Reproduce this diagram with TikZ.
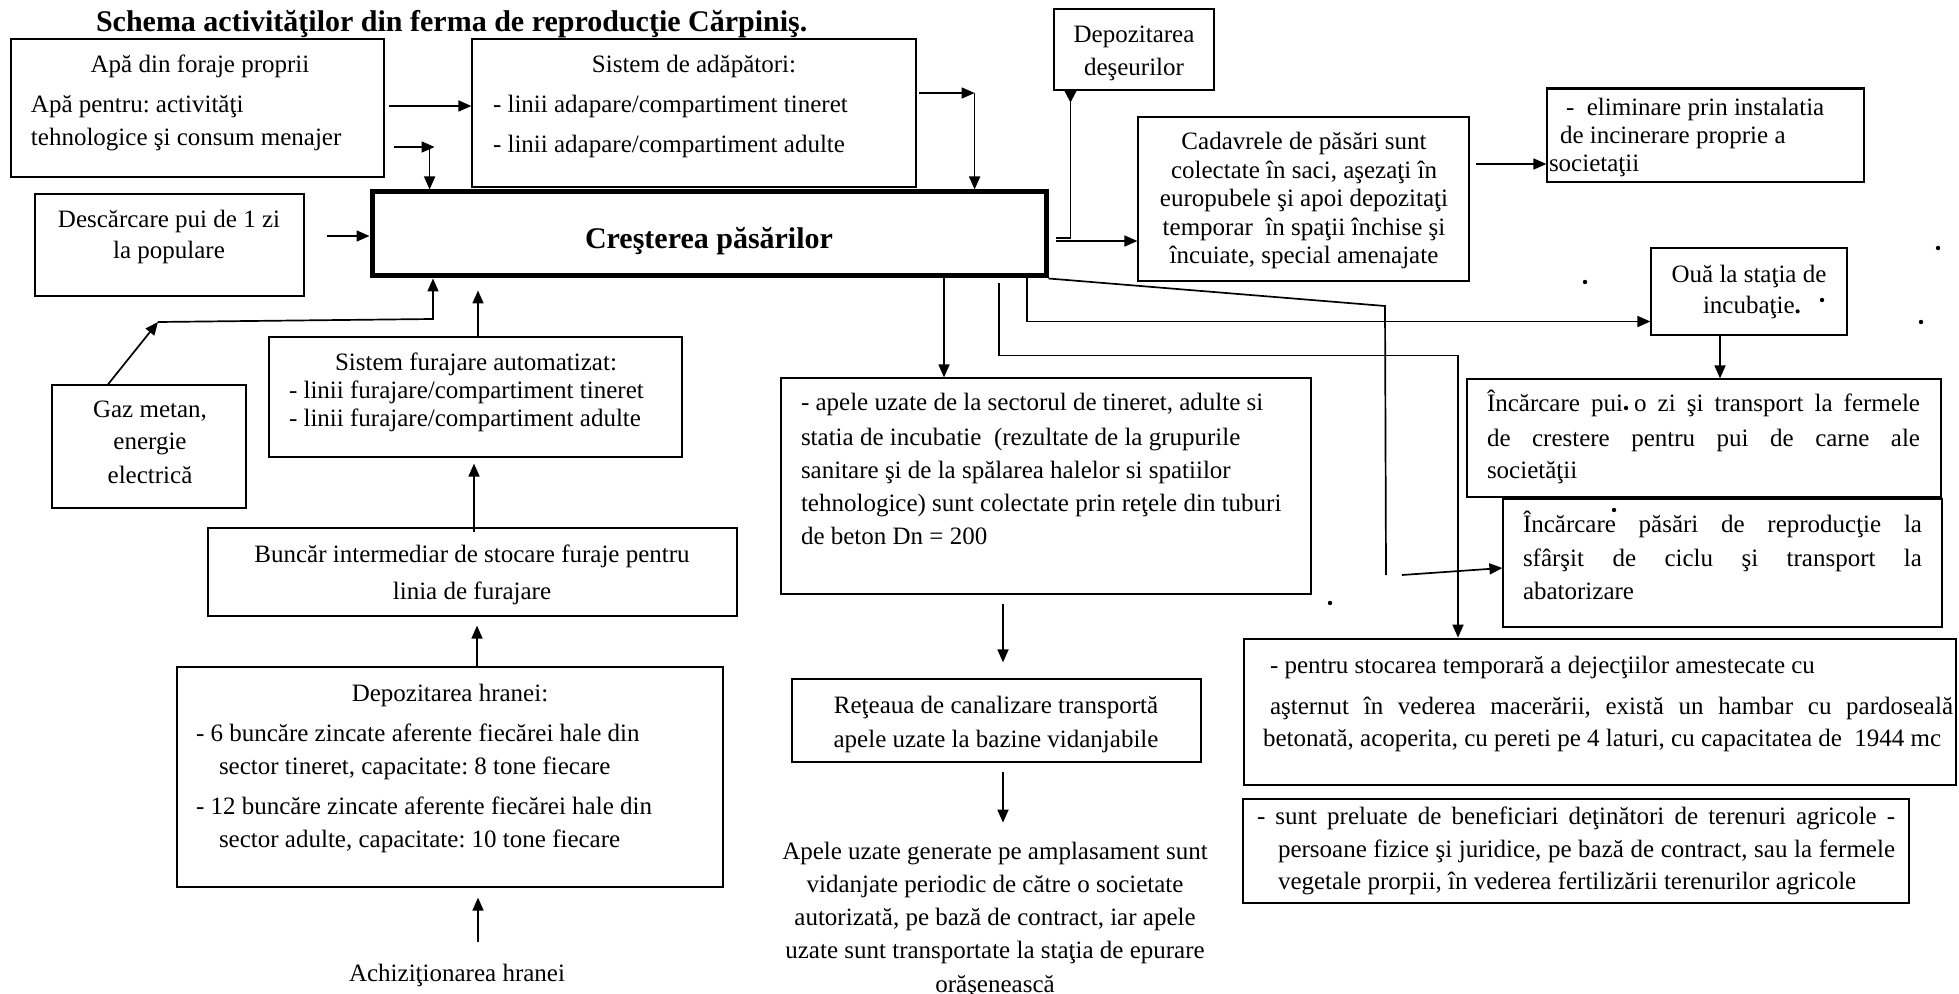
\documentclass[tikz,border=0pt]{standalone}
\usepackage{fontspec}
\setmainfont{Liberation Serif}
\usetikzlibrary{fit,arrows.meta}
\newcommand\bodyfnt{\fontsize{12.5pt}{15pt}\selectfont}
\newcommand\titlefnt{\fontsize{15pt}{18pt}\selectfont\bfseries}
\frenchspacing
\begin{document}
\begin{tikzpicture}[x=0.5pt,y=-0.5pt,
  box/.style={draw, line width=0.6pt, inner sep=0pt},
  arr/.style={line width=0.85pt, -{Triangle[length=6.5pt,width=5.5pt]}},
  ln/.style={line width=0.85pt},
  t/.style={inner sep=0pt, outer sep=0pt, font=\bodyfnt},
  tl/.style={t, anchor=base west},
  tc/.style={t, anchor=base},
  sdot/.style={circle, fill, inner sep=0pt, minimum size=2.2pt}]
\useasboundingbox (0,0) rectangle (1959,994);

% ---------- boxes ----------
\node[box, fit={(11,39) (384,177)}] (apa) {};
\node[box, fit={(472,39) (916,187)}] (adap) {};
\node[box, line width=2.5pt, fit={(372,192) (1046,276)}] (crest) {};
\node[box, fit={(35,194) (304,296)}] (desc) {};
\node[box, fit={(52,385) (246,508)}] (gaz) {};
\node[box, fit={(269,337) (682,457)}] (fur) {};
\node[box, fit={(208,528) (737,616)}] (bunc) {};
\node[box, fit={(177,667) (723,887)}] (dep) {};
\node[box, fit={(1054,9) (1214,90)}] (deseu) {};
\node[box, fit={(1138,117) (1469,281)}] (cad) {};
\node[box, fit={(1547,89) (1864,182)}] (elim) {};
\draw[line width=1.2pt] (elim.north west) -- (elim.north east);
\node[box, fit={(1651,248) (1847,335)}] (oua) {};
\node[box, fit={(1467,379) (1941,497)}] (ipui) {};
\node[box, fit={(1503,499) (1942,627)}] (ipas) {};
\node[box, fit={(781,378) (1311,594)}] (apele) {};
\node[box, fit={(792,679) (1201,762)}] (retea) {};
\node[box, line width=1.35pt, fit={(1244,639) (1956,785)}] (stoc) {};
\node[box, line width=1pt, fit={(1243,799) (1909,903)}] (sunt) {};

% ---------- texts ----------
\node[tl, font=\titlefnt] (title) at (96,32) {Schema activităţilor din ferma de reproducţie Cărpiniş.};

\node[tc] (apa1) at (200,73) {Apă din foraje proprii};
\node[tl] (apa2) at (31,113) {Apă pentru: activităţi};
\node[tl] (apa3) at (31,146) {tehnologice şi consum menajer};

\node[tc] (ad1) at (694,73) {Sistem de adăpători:};
\node[tl] (ad2) at (493,113) {- linii adapare/compartiment tineret};
\node[tl] (ad3) at (493,153) {- linii adapare/compartiment adulte};

\node[tc, font=\titlefnt] (cr1) at (709,249) {Creşterea păsărilor};

\node[tc] (de1) at (169,228) {Descărcare pui de 1 zi};
\node[tc] (de2) at (169,259) {la populare};

\node[tc] (ga1) at (150,417) {Gaz metan,};
\node[tc] (ga2) at (150,450) {energie};
\node[tc] (ga3) at (150,483) {electrică};

\node[tc] (fu1) at (476,371) {Sistem furajare automatizat:};
\node[tl] (fu2) at (289,399) {- linii furajare/compartiment tineret};
\node[tl] (fu3) at (289,427) {- linii furajare/compartiment adulte};

\node[tc] (bu1) at (472,562) {Buncăr intermediar de stocare furaje pentru};
\node[tc] (bu2) at (472,599) {linia de furajare};

\node[tc] (dh1) at (450,701) {Depozitarea hranei:};
\node[tl] (dh2) at (196,741) {- 6 buncăre zincate aferente fiecărei hale din};
\node[tl] (dh3) at (219,774) {sector tineret, capacitate: 8 tone fiecare};
\node[tl] (dh4) at (196,814) {- 12 buncăre zincate aferente fiecărei hale din};
\node[tl] (dh5) at (219,847) {sector adulte, capacitate: 10 tone fiecare};

\node[tc] (achiz) at (457,981) {Achiziţionarea hranei};

\node[tc] (ds1) at (1134,43) {Depozitarea};
\node[tc] (ds2) at (1134,76) {deşeurilor};

\node[tc] (ca1) at (1304,150) {Cadavrele de păsări sunt};
\node[tc] (ca2) at (1304,179) {colectate în saci, aşezaţi în};
\node[tc] (ca3) at (1304,207) {europubele şi apoi depozitaţi};
\node[tc] (ca4) at (1304,236) {temporar\ \ în spaţii închise şi};
\node[tc] (ca5) at (1304,264) {încuiate, special amenajate};

\node[tl] (el1) at (1566,116) {-\ \ eliminare prin instalatia};
\node[tl] (el2) at (1560,144) {de incinerare proprie a};
\node[tl] (el3) at (1549,172) {societaţii};

\node[tc] (ou1) at (1749,283) {Ouă la staţia de};
\node[tl] (ou2) at (1703,314) {incubaţie{\bfseries .}};

\node[tl] (ip1) at (1487,412) {\makebox[216.5pt][s]{Încărcare pui o zi şi transport la fermele}};
\node[tl] (ip2) at (1487,446) {\makebox[216.5pt][s]{de crestere pentru pui de carne ale}};
\node[tl] (ip3) at (1487,478) {societăţii};

\node[tl] (is1) at (1523,532) {\makebox[199.5pt][s]{Încărcare păsări de reproducţie la}};
\node[tl] (is2) at (1523,566) {\makebox[199.5pt][s]{sfârşit de ciclu şi transport la}};
\node[tl] (is3) at (1523,599) {abatorizare};

\node[tl] (ap1) at (801,411) {- apele uzate de la sectorul de tineret, adulte si};
\node[tl] (ap2) at (801,445) {statia de incubatie\ \ (rezultate de la grupurile};
\node[tl] (ap3) at (801,478) {sanitare şi de la spălarea halelor si spatiilor};
\node[tl] (ap4) at (801,511) {tehnologice) sunt colectate prin reţele din tuburi};
\node[tl] (ap5) at (801,544) {de beton Dn = 200};

\node[tc] (re1) at (996,713) {Reţeaua de canalizare transportă};
\node[tc] (re2) at (996,747) {apele uzate la bazine vidanjabile};

\node[tc] (vid1) at (995,859) {Apele uzate generate pe amplasament sunt};
\node[tc] (vid2) at (995,892) {vidanjate periodic de către o societate};
\node[tc] (vid3) at (995,925) {autorizată, pe bază de contract, iar apele};
\node[tc] (vid4) at (995,958) {uzate sunt transportate la staţia de epurare};
\node[tc] (vid5) at (995,992) {orăşenească};

\node[tl] (st1) at (1270,673) {- pentru stocarea temporară a dejecţiilor amestecate cu};
\node[tl] (st2) at (1270,714) {\makebox[341.5pt][s]{aşternut în vederea macerării, există un hambar cu pardoseală}};
\node[tl] (st3) at (1263,746) {betonată, acoperita, cu pereti pe 4 laturi, cu capacitatea de\ \ 1944 mc};

\node[tl] (su1) at (1257,824) {\makebox[319pt][s]{- sunt preluate de beneficiari deţinători de terenuri agricole -}};
\node[tl] (su2) at (1278,857) {\makebox[308.5pt][s]{persoane fizice şi juridice, pe bază de contract, sau la fermele}};
\node[tl] (su3) at (1278,889) {vegetale prorpii, în vederea fertilizării terenurilor agricole};

% stray dots
\node[sdot] (p1) at (1585,282) {};
\node[sdot] (p2) at (1921,322) {};
\node[sdot] (p3) at (1938,248) {};
\node[sdot] (p4) at (1330,603) {};
\node[sdot] (p5) at (1614,510) {};
\node[sdot] (p6) at (1626,408) {};
\node[sdot] (p7) at (1822,300) {};

% ---------- connectors ----------
\coordinate (c1) at ([shift={(4,-2)}]apa.east);
\draw[arr] (c1) -- (c1 -| adap.west);

\coordinate (c2) at ([shift={(9,39)}]apa.east);
\coordinate (c2b) at ([shift={(50,39)}]apa.east);
\coordinate (c2c) at ([shift={(45,39)}]apa.east);
\draw[arr] (c2) -- (c2b);
\draw[arr] (c2c) -- (c2c |- crest.north);

\coordinate (c3) at ([shift={(2,-20)}]adap.east);
\coordinate (c3b) at ([shift={(58,-20)}]adap.east);
\draw[arr] (c3) -- (c3b);
\draw[arr] (c3b) -- (c3b |- crest.north);

\coordinate (c4) at ([shift={(22,-9)}]desc.east);
\draw[arr] (c4) -- (c4 -| crest.west);

\coordinate (g0) at ([shift={(-41,0)}]gaz.north);
\coordinate (g1) at (158,322);
\coordinate (g2) at (433,319);
\draw[arr] (g0) -- (g1);
\draw[arr] (g1) -- (g2) -- (g2 |- crest.south);

\coordinate (c6) at ([shift={(2.5,0)}]fur.north);
\draw[arr, shorten >=6pt] (c6) -- (c6 |- crest.south);

\draw[arr, shorten >=3pt] ([shift={(1.5,5)}]bunc.north) -- ([shift={(-1.5,0)}]fur.south);

\coordinate (c8) at ([shift={(27,0)}]dep.north);
\draw[arr, shorten >=4.5pt] (c8) -- (c8 |- bunc.south);

\coordinate (c9) at ([shift={(21,-22)}]achiz.north);
\draw[arr, shorten >=5pt] (c9) -- (c9 |- dep.south);

\coordinate (d0) at ([shift={(7,4)}]crest.east);
\coordinate (d1) at ([shift={(22,4)}]crest.east);
\draw[ln, {Triangle[reversed,length=6pt,width=6pt]}-] (d1 |- deseu.south) -- (d1) -- (d0);
\coordinate (d2) at ([shift={(7,7)}]crest.east);
\draw[arr] (d2) -- (d2 -| cad.west);

\coordinate (c11) at ([shift={(6,-35)}]cad.east);
\draw[arr] (c11) -- (c11 -| elim.west);

\coordinate (c12) at ([shift={(235,0)}]crest.south);
\draw[arr] (c12) -- (c12 |- apele.north);

\coordinate (c13) at ([shift={(318,-4)}]crest.south);
\coordinate (c13b) at ([shift={(318,43)}]crest.south);
\draw[arr] (c13) -- (c13b) -- (c13b -| oua.west);

\coordinate (c14) at ([shift={(290,5)}]crest.south);
\coordinate (c14b) at ([shift={(290,77)}]crest.south);
\coordinate (c14c) at ([shift={(749,77)}]crest.south);
\draw[arr] (c14) -- (c14b) -- (c14c) -- (c14c |- stoc.north);

\coordinate (c15) at (crest.south east);
\coordinate (c15b) at (1385,306);
\coordinate (c15c) at (1386,575);
\draw[ln] (c15) -- (c15b) -- (c15c);
\coordinate (c15d) at (1402,575);
\draw[arr] (c15d) -- ([shift={(0,5)}]ipas.west);

\coordinate (c16) at ([shift={(-29,0)}]oua.south);
\draw[arr] (c16) -- (c16 |- ipui.north);

\coordinate (c17) at ([shift={(-43,9)}]apele.south);
\draw[arr, shorten >=8pt] (c17) -- (c17 |- retea.north);

\coordinate (c18) at ([shift={(6.5,9)}]retea.south);
\draw[arr, shorten >=9.5pt] (c18) -- (c18 |- vid1.north);
\end{tikzpicture}
\end{document}
